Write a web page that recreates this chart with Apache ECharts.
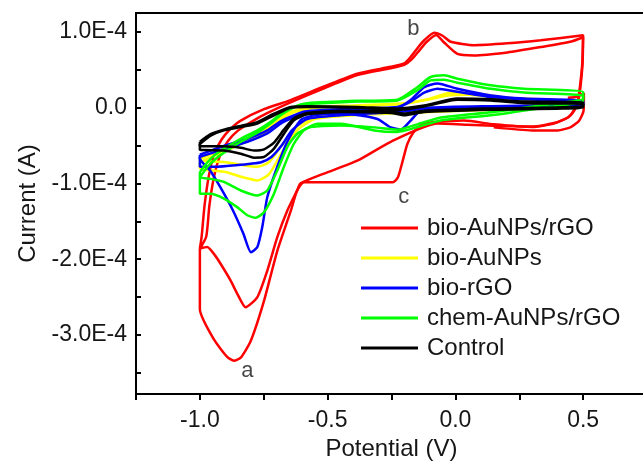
<!DOCTYPE html>
<html><head><meta charset="utf-8">
<script src="https://cdn.jsdelivr.net/npm/echarts/dist/echarts.min.js"></script>
<style>html,body{margin:0;padding:0;background:#fff}#c{width:643px;height:463px}</style>
</head><body><div id="c"></div><script>
// Potential (V), Current (units of 1E-4 A)
const seriesNames = ['bio-AuNPs/rGO','bio-AuNPs','bio-rGO','chem-AuNPs/rGO','Control'];
const seriesColors = ['#ff0000','#ffff00','#0000ff','#00ff00','#000000'];

const bioAuNPsRGO_cycle1 = [[-1.0,-1.86],[-0.993,-1.70],[-0.982,-1.30],[-0.965,-0.90],[-0.945,-0.62],[-0.915,-0.42],[-0.88,-0.28],[-0.84,-0.17],[-0.749,-0.02],[-0.645,0.10],[-0.514,0.28],[-0.384,0.45],[-0.253,0.54],[-0.20,0.585],[-0.175,0.67],[-0.145,0.80],[-0.122,0.89],[-0.083,0.99],[-0.05,0.95],[-0.018,0.87],[0.073,0.825],[0.204,0.85],[0.334,0.89],[0.50,0.955],[0.497,0.60],[0.49,0.35],[0.48,0.10],[0.465,-0.03],[0.44,-0.13],[0.385,-0.21],[0.30,-0.255],[0.15,-0.22],[0.034,-0.17],[-0.08,-0.19],[-0.135,-0.235],[-0.165,-0.33],[-0.188,-0.48],[-0.21,-0.75],[-0.225,-0.92],[-0.245,-0.985],[-0.357,-0.985],[-0.593,-0.985],[-0.62,-1.10],[-0.644,-1.36],[-0.697,-1.89],[-0.749,-2.55],[-0.801,-3.08],[-0.84,-3.30],[-0.867,-3.34],[-0.893,-3.29],[-0.945,-3.06],[-1.0,-2.66],[-1.0,-1.86]];
const bioAuNPsRGO_cycle2 = [[-1.0,-1.86],[-0.975,-1.70],[-0.963,-1.30],[-0.945,-0.92],[-0.922,-0.64],[-0.89,-0.44],[-0.85,-0.30],[-0.80,-0.19],[-0.735,-0.07],[-0.645,0.07],[-0.514,0.255],[-0.384,0.43],[-0.253,0.52],[-0.20,0.565],[-0.17,0.64],[-0.14,0.76],[-0.112,0.87],[-0.075,0.96],[-0.044,0.86],[0.008,0.71],[0.073,0.69],[0.204,0.73],[0.334,0.80],[0.45,0.87],[0.5,0.93],[0.498,0.60],[0.492,0.35],[0.483,0.12],[0.47,-0.01],[0.445,-0.12],[0.39,-0.20],[0.3,-0.25],[0.15,-0.24],[0.047,-0.225],[-0.07,-0.21],[-0.253,-0.45],[-0.384,-0.70],[-0.514,-0.87],[-0.606,-1.0],[-0.619,-1.09],[-0.658,-1.36],[-0.697,-1.71],[-0.736,-2.15],[-0.775,-2.50],[-0.821,-2.635],[-0.853,-2.46],[-0.88,-2.28],[-0.919,-2.06],[-0.945,-1.93],[-0.971,-1.84],[-1.0,-1.86]];
const bioAuNPsRGO_end = [[0.44,0.13],[0.47,0.14],[0.503,0.19],[0.502,-0.036],[0.485,-0.168],[0.452,-0.256],[0.40,-0.30],[0.3,-0.30],[0.15,-0.26]];

const bioAuNPs_cycle1 = [[-1.0,-0.72],[-0.92,-0.6],[-0.84,-0.48],[-0.75,-0.35],[-0.7,-0.2],[-0.64,-0.07],[-0.55,0.0],[-0.4,0.02],[-0.2,0.05],[-0.1,0.12],[-0.03,0.19],[0.05,0.2],[0.2,0.13],[0.5,0.08],[0.5,0.02],[0.1,-0.03],[-0.2,-0.07],[-0.4,-0.1],[-0.55,-0.15],[-0.62,-0.3],[-0.68,-0.6],[-0.73,-0.88],[-0.775,-0.96],[-0.83,-0.92],[-0.9,-0.85],[-1.0,-0.8],[-1.0,-0.72]];
const bioAuNPs_cycle2 = [[-1.0,-0.68],[-0.92,-0.56],[-0.84,-0.44],[-0.75,-0.31],[-0.7,-0.17],[-0.64,-0.05],[-0.55,0.01],[-0.4,0.03],[-0.2,0.06],[-0.1,0.11],[-0.03,0.16],[0.05,0.17],[0.2,0.12],[0.5,0.07],[0.5,0.03],[0.1,-0.02],[-0.2,-0.05],[-0.4,-0.08],[-0.55,-0.12],[-0.62,-0.25],[-0.68,-0.5],[-0.73,-0.72],[-0.775,-0.78],[-0.83,-0.76],[-0.9,-0.72],[-1.0,-0.7],[-1.0,-0.68]];

const bioRGO_cycle1 = [[-1.0,-0.65],[-0.919,-0.56],[-0.814,-0.45],[-0.736,-0.34],[-0.684,-0.21],[-0.63,-0.12],[-0.59,-0.07],[-0.514,-0.05],[-0.384,-0.03],[-0.227,0.0],[-0.175,0.1],[-0.122,0.27],[-0.07,0.32],[0.008,0.25],[0.14,0.16],[0.27,0.12],[0.5,0.09],[0.5,0.03],[0.14,0.01],[-0.057,-0.013],[-0.136,-0.04],[-0.175,-0.17],[-0.214,-0.29],[-0.253,-0.26],[-0.305,-0.15],[-0.4,-0.09],[-0.5,-0.08],[-0.6,-0.15],[-0.658,-0.45],[-0.697,-0.78],[-0.736,-1.18],[-0.756,-1.58],[-0.775,-1.84],[-0.80,-1.91],[-0.83,-1.66],[-0.87,-1.36],[-0.92,-1.05],[-0.96,-0.83],[-1.0,-0.67],[-1.0,-0.65]];
const bioRGO_cycle2 = [[-1.0,-0.62],[-0.919,-0.52],[-0.814,-0.41],[-0.736,-0.30],[-0.684,-0.18],[-0.63,-0.10],[-0.59,-0.05],[-0.514,-0.03],[-0.384,-0.01],[-0.227,0.01],[-0.175,0.08],[-0.122,0.2],[-0.07,0.25],[0.008,0.21],[0.14,0.14],[0.27,0.11],[0.5,0.08],[0.5,0.04],[0.14,0.02],[-0.1,0.0],[-0.2,-0.05],[-0.3,-0.07],[-0.45,-0.1],[-0.58,-0.15],[-0.64,-0.3],[-0.68,-0.5],[-0.72,-0.65],[-0.76,-0.72],[-0.8,-0.74],[-0.86,-0.76],[-0.93,-0.78],[-1.0,-0.78],[-1.0,-0.62]];

const chemAuNPsRGO_cycle1 = [[-1.0,-0.92],[-0.97,-0.78],[-0.94,-0.68],[-0.9,-0.58],[-0.84,-0.45],[-0.775,-0.33],[-0.72,-0.2],[-0.684,-0.1],[-0.645,-0.02],[-0.606,0.04],[-0.58,0.06],[-0.384,0.09],[-0.227,0.105],[-0.149,0.27],[-0.097,0.405],[-0.044,0.427],[0.008,0.383],[0.139,0.295],[0.269,0.25],[0.5,0.207],[0.5,0.096],[0.269,-0.036],[0.139,-0.1],[-0.057,-0.168],[-0.149,-0.256],[-0.227,-0.32],[-0.318,-0.30],[-0.449,-0.212],[-0.54,-0.212],[-0.593,-0.30],[-0.632,-0.476],[-0.671,-0.78],[-0.71,-1.137],[-0.749,-1.38],[-0.782,-1.454],[-0.814,-1.42],[-0.854,-1.313],[-0.906,-1.20],[-0.958,-1.137],[-1.0,-1.137],[-1.0,-0.92]];
const chemAuNPsRGO_cycle2 = [[-1.0,-0.85],[-0.97,-0.72],[-0.94,-0.62],[-0.9,-0.53],[-0.84,-0.41],[-0.775,-0.3],[-0.72,-0.18],[-0.684,-0.08],[-0.645,-0.01],[-0.606,0.04],[-0.58,0.05],[-0.384,0.08],[-0.227,0.095],[-0.149,0.23],[-0.097,0.36],[-0.044,0.37],[0.008,0.33],[0.139,0.25],[0.269,0.2],[0.5,0.16],[0.5,0.12],[0.269,0.0],[0.139,-0.06],[-0.057,-0.13],[-0.149,-0.22],[-0.227,-0.29],[-0.318,-0.26],[-0.449,-0.234],[-0.566,-0.256],[-0.619,-0.344],[-0.658,-0.52],[-0.697,-0.83],[-0.736,-1.093],[-0.775,-1.16],[-0.84,-1.093],[-0.906,-0.98],[-0.958,-0.94],[-1.0,-0.92],[-1.0,-0.85]];

const control_cycle1 = [[-1.0,-0.48],[-0.958,-0.37],[-0.906,-0.30],[-0.84,-0.256],[-0.775,-0.21],[-0.71,-0.10],[-0.645,0.0],[-0.58,0.01],[-0.384,0.0],[-0.227,-0.03],[-0.122,0.017],[0.008,0.105],[0.139,0.096],[0.269,0.06],[0.5,0.05],[0.5,0.0],[0.139,-0.027],[-0.122,-0.058],[-0.2,-0.10],[-0.253,-0.07],[-0.45,-0.058],[-0.58,-0.088],[-0.632,-0.167],[-0.671,-0.344],[-0.71,-0.54],[-0.749,-0.65],[-0.788,-0.66],[-0.84,-0.608],[-0.906,-0.564],[-1.0,-0.555],[-1.0,-0.48]];
const control_cycle2 = [[-1.0,-0.45],[-0.958,-0.35],[-0.906,-0.29],[-0.84,-0.24],[-0.775,-0.19],[-0.71,-0.08],[-0.645,0.01],[-0.58,0.02],[-0.384,0.01],[-0.227,-0.01],[-0.122,0.03],[0.008,0.12],[0.139,0.11],[0.269,0.08],[0.5,0.07],[0.5,0.02],[0.139,-0.01],[-0.122,-0.04],[-0.2,-0.08],[-0.253,-0.05],[-0.45,-0.04],[-0.58,-0.07],[-0.632,-0.14],[-0.671,-0.29],[-0.71,-0.46],[-0.749,-0.55],[-0.788,-0.565],[-0.84,-0.53],[-0.906,-0.51],[-1.0,-0.51],[-1.0,-0.45]];

const annotations = [[-0.814,-3.47,'a'],[-0.164,1.044,'b'],[-0.202,-1.18,'c']];

const curveSets = [
  [bioAuNPsRGO_cycle1, bioAuNPsRGO_cycle2, bioAuNPsRGO_end],
  [bioAuNPs_cycle1, bioAuNPs_cycle2],
  [bioRGO_cycle1, bioRGO_cycle2],
  [chemAuNPsRGO_cycle1, chemAuNPsRGO_cycle2],
  [control_cycle1, control_cycle2]
];

const FONT = "'Liberation Sans', Arial, sans-serif";
const TXT = '#161616';
const series = [];
curveSets.forEach((set, i) => {
  set.forEach(d => {
    series.push({
      name: seriesNames[i], type: 'line', data: d, symbol: 'none', smooth: 0.2,
      lineStyle: { color: seriesColors[i], width: 2.5 }, itemStyle: { color: seriesColors[i] },
      z: 2 + i, silent: true
    });
  });
});
series.push({
  type: 'scatter', data: annotations, symbolSize: 0, silent: true, z: 10,
  label: { show: true, position: 'inside', formatter: p => p.data[2], fontSize: 22, fontFamily: FONT, color: TXT }
});

const chart = echarts.init(document.getElementById('c'), null, { renderer: 'canvas' });
chart.setOption({
  animation: false,
  backgroundColor: '#ffffff',
  grid: { left: 136, top: 13, width: 511, height: 381, containLabel: false, outerBoundsMode: 'none',
    show: true, borderColor: '#000', borderWidth: 2, backgroundColor: 'transparent' },
  legend: {
    data: seriesNames, orient: 'vertical', left: 356, top: 211, itemWidth: 57, itemHeight: 3, itemGap: 6,
    icon: 'rect',
    textStyle: { fontSize: 24, fontFamily: FONT, color: TXT, padding: [0, 0, 0, 4] }
  },
  xAxis: {
    type: 'value', min: -1.25, max: 0.75, interval: 0.25,
    name: 'Potential (V)', nameLocation: 'middle', nameGap: 43,
    nameTextStyle: { fontSize: 24, fontFamily: FONT, color: TXT },
    axisLine: { show: true, onZero: false, lineStyle: { color: '#000', width: 2 } },
    axisTick: { show: true, inside: false, length: 6, lineStyle: { color: '#000', width: 2 } },
    axisLabel: { fontSize: 23, fontFamily: FONT, color: TXT, margin: 15,
      formatter: v => (Math.abs(v * 2 - Math.round(v * 2)) < 1e-6) ? v.toFixed(1) : '' },
    splitLine: { show: false }
  },
  yAxis: {
    type: 'value', min: -3.78, max: 1.25, splitNumber: 10,
    name: 'Current (A)', nameLocation: 'middle', nameGap: 96, nameRotate: 90,
    nameTextStyle: { fontSize: 24, fontFamily: FONT, color: TXT },
    axisLine: { show: true, onZero: false, lineStyle: { color: '#000', width: 2 } },
    axisTick: { show: true, inside: true, length: 5, lineStyle: { color: '#000', width: 2 } },
    axisLabel: { fontSize: 23, fontFamily: FONT, color: TXT, margin: 9, showMinLabel: false, showMaxLabel: false,
      formatter: v => {
        if (Math.abs(v - Math.round(v)) > 1e-6) return '';
        const r = Math.round(v);
        return r === 0 ? '0.0' : r.toFixed(1) + 'E-4';
      } },
    splitLine: { show: false }
  },
  series: series
});
</script></body></html>
